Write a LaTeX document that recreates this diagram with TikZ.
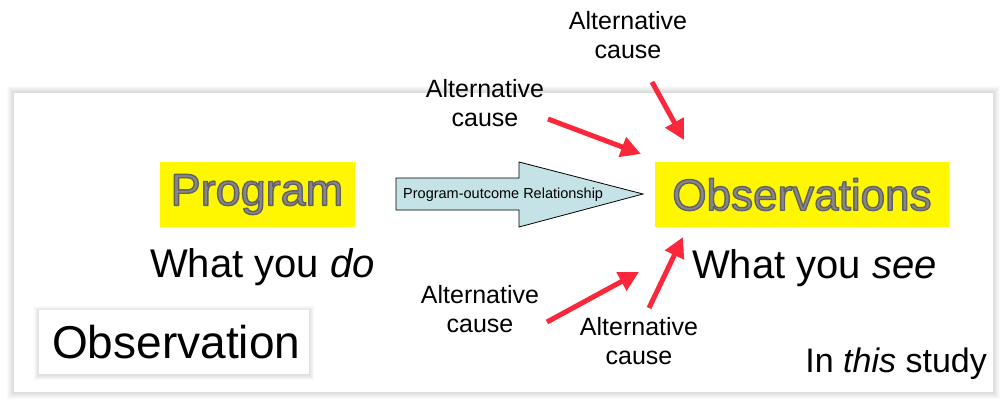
\documentclass[tikz,border=0pt]{standalone}
\usepackage{fontspec}
\setmainfont{Liberation Sans}
\usetikzlibrary{arrows.meta}
\definecolor{hilite}{RGB}{255,247,0}
\definecolor{embgray}{RGB}{135,135,135}
\definecolor{causered}{RGB}{250,40,58}
\definecolor{arrowfill}{RGB}{197,227,230}
\tikzset{
  fs/.style={font=\fontsize{#1}{1.15\dimexpr #1pt\relax}\selectfont},
  hibox/.style={fill=hilite, inner sep=0pt},
  embossed/.style={text=embgray, inner sep=0pt},
  causelabel/.style={fs=25, align=center, inner sep=0pt},
  causearrow/.style={draw=causered, line width=5pt,
    -{Triangle[length=20pt,width=20pt]}},
  plaintext/.style={inner sep=0pt, anchor=base west},
}
% gray letters with a dark rim (fill + stroke text rendering)
\newcommand\rimtext[1]{%
  \special{pdf:literal direct 1 j 2 Tr 1.4 w 0.38 0.38 0.38 RG}#1\special{pdf:literal direct 0 Tr}}
\begin{document}
\begin{tikzpicture}[x=1pt,y=-1pt]
\useasboundingbox (0,0) rectangle (1003,404);
\fill[white] (0,0) rectangle (1003,404);

% slide frame with a soft shadow
\foreach \s in {7,6,5,4,3,2,1}{
  \fill[black, opacity=0.018] (14-\s,93-\s) rectangle (993+\s,392+\s);
}
\fill[white] (14,93) rectangle (993,392);

% observation label box
\foreach \s in {5,4,3,2,1}{
  \fill[black, opacity=0.022] (39-\s,310-\s+1) rectangle (309+\s,374+\s+1);
}
\node[fill=white, minimum width=270pt, minimum height=64pt, inner sep=0pt] (obsbox) at (174,342) {};
\node[plaintext, fs=46] (obslabel) at (52,358) {Observation};

% program and observations boxes
\node[hibox, embossed, fs=45, minimum width=195pt, minimum height=65pt] (prog) at (257,194.5) {\rimtext{Program}};
\node[hibox, embossed, fs=44, minimum width=294pt, minimum height=65pt] (obs) at (802,194.5) {\rimtext{Observations}};

% program-outcome block arrow
\coordinate (tail) at (396,194);
\coordinate (tip) at (643,194);
\draw[fill=arrowfill, line width=0.8pt, line join=miter]
  (396,178) -- (519,178) -- (519,162) -- (tip) -- (519,227) -- (519,210) -- (396,210) -- cycle;
\node[plaintext, fs=14.5, anchor=west] (rel) at (403,195) {Program-outcome Relationship};

% captions
\node[plaintext, fs=40] (do) at (150,277) {What you \textit{do}};
\node[plaintext, fs=40] (see) at (692,278) {What you \textit{see}};
\node[plaintext, fs=34, anchor=base east] (study) at (987,372) {In \textit{this} study};

% alternative causes
\node[causelabel] (c1) at (628,35) {Alternative\\cause};
\node[causelabel] (c2) at (485,103) {Alternative\\cause};
\node[causelabel] (c3) at (480,309) {Alternative\\cause};
\node[causelabel] (c4) at (639,341) {Alternative\\cause};

\coordinate (c1s) at (652,82);  \coordinate (c1t) at (684,140);
\coordinate (c2s) at (548,119); \coordinate (c2t) at (641,154);
\coordinate (c3s) at (547,322); \coordinate (c3t) at (639,272);
\coordinate (c4s) at (649,308); \coordinate (c4t) at (683,237);
\draw[causearrow] (c1s) -- (c1t);
\draw[causearrow] (c2s) -- (c2t);
\draw[causearrow] (c3s) -- (c3t);
\draw[causearrow] (c4s) -- (c4t);
\end{tikzpicture}
\end{document}
